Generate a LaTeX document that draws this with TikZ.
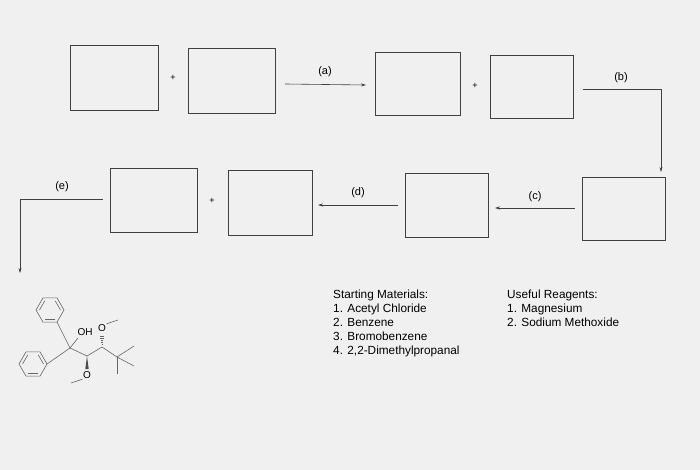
\documentclass[tikz,border=0pt]{standalone}
\usepackage{fontspec}
\setmainfont{Liberation Sans}
\usetikzlibrary{arrows.meta,calc}
\begin{document}
\begin{tikzpicture}[x=1pt,y=-1pt,
  bx/.style={draw=black!75,line width=0.8pt},
  arr/.style={draw=black!75,line width=0.6pt,-{Stealth[length=5pt,width=3pt]}},
  lbl/.style={font=\fontsize{11}{14}\selectfont},
  txt/.style={font=\fontsize{11.8}{14}\selectfont},
  pl/.style={font=\fontsize{9}{10}\selectfont},
  bond/.style={draw=black!60,line width=0.6pt}]
\fill[black!6] (0,0) rectangle (700,470);
\useasboundingbox (0,0) rectangle (700,470);
% row 1
\draw[bx] (70,45) rectangle (158,110);
\draw[bx] (188,48) rectangle (275,113);
\draw[bx] (375,52) rectangle (460,115);
\draw[bx] (490,55) rectangle (573,118);
\node[pl] (p1) at (173,78) {+};
\node[pl] (p2) at (475,86) {+};
\coordinate (a1) at (285,84); \coordinate (a2) at (366,85);
\draw[arr] (a1) -- (a2);
\node[lbl] (la) at (325,72) {(a)};
\coordinate (b1s) at (583,89); \coordinate (b1c) at (661,89); \coordinate (b1e) at (661,172);
\draw[arr] (b1s) -- (b1c) -- (b1e);
\node[lbl] (lb) at (621,78) {(b)};
% row 2
\draw[bx] (582,177) rectangle (665,240);
\draw[bx] (405,173) rectangle (488,237);
\draw[bx] (228,170) rectangle (312,235);
\draw[bx] (110,168) rectangle (197,232);
\node[pl] (p3) at (212,201) {+};
\coordinate (c1) at (575,208); \coordinate (c2) at (495,208);
\draw[arr] (c1) -- (c2);
\node[lbl] (lc) at (535,197) {(c)};
\coordinate (d1) at (398,205); \coordinate (d2) at (318,205);
\draw[arr] (d1) -- (d2);
\node[lbl] (ld) at (358,193) {(d)};
\coordinate (e1) at (103,199); \coordinate (e2) at (20,199); \coordinate (e3) at (20,273);
\draw[arr] (e1) -- (e2) -- (e3);
\node[lbl] (le) at (62,187) {(e)};
% text
\node[txt,anchor=north west,align=left,inner sep=0] (sm) at (333,290) {Starting Materials:\\1. Acetyl Chloride\\2. Benzene\\3. Bromobenzene\\4. 2,2-Dimethylpropanal};
\node[txt,anchor=north west,align=left,inner sep=0] (ur) at (507,290) {Useful Reagents:\\1. Magnesium\\2. Sodium Methoxide};
% molecule
\coordinate (C1) at (70,348);
\begin{scope}[shift={(50,310)}]
  \draw[bond] (-60:14) -- (0:14) -- (60:14) -- (120:14) -- (180:14) -- (240:14) -- cycle;
  \foreach \k in {0,120,240}{\draw[bond] (\k-60:10.5) -- (\k:10.5);}
\end{scope}
\begin{scope}[shift={(33,364)}]
  \draw[bond] (0:14) -- (60:14) -- (120:14) -- (180:14) -- (240:14) -- (300:14) -- cycle;
  \foreach \k in {60,180,300}{\draw[bond] (\k:10.5) -- (\k+60:10.5);}
\end{scope}
\draw[bond] (C1) -- (57,322);
\draw[bond] (C1) -- (47,364);
\draw[bond] (C1) -- (78,338);
\node[font=\fontsize{10}{11}\selectfont,inner sep=0.5pt] (OH) at (85,332) {OH};
\coordinate (C2) at (87,356);
\draw[bond] (C1) -- (C2);
\fill[black!70] (C2) -- (85.3,369) -- (88.7,369) -- cycle;
\node[font=\fontsize{10}{11}\selectfont,inner sep=0.5pt] (O2) at (87,375) {O};
\draw[bond] (O2.south west) -- (71,383);
\coordinate (C3) at (102,347);
\draw[bond] (C2) -- (C3);
\foreach \t in {0.2,0.35,0.5,0.65,0.8}{\draw[bond,line width=0.5pt] ($(C3)!\t!(102,334)+(-\t*2.5,0)$) -- ($(C3)!\t!(102,334)+(\t*2.5,0)$);}
\node[font=\fontsize{10}{11}\selectfont,inner sep=0.5pt] (O3) at (102,328) {O};
\draw[bond] (O3.north east) -- (118,320);
\coordinate (C4) at (117,357);
\draw[bond] (C3) -- (C4);
\draw[bond] (C4) -- (134,346);
\draw[bond] (C4) -- (134,366);
\draw[bond] (C4) -- (117,374);
\end{tikzpicture}
\end{document}
